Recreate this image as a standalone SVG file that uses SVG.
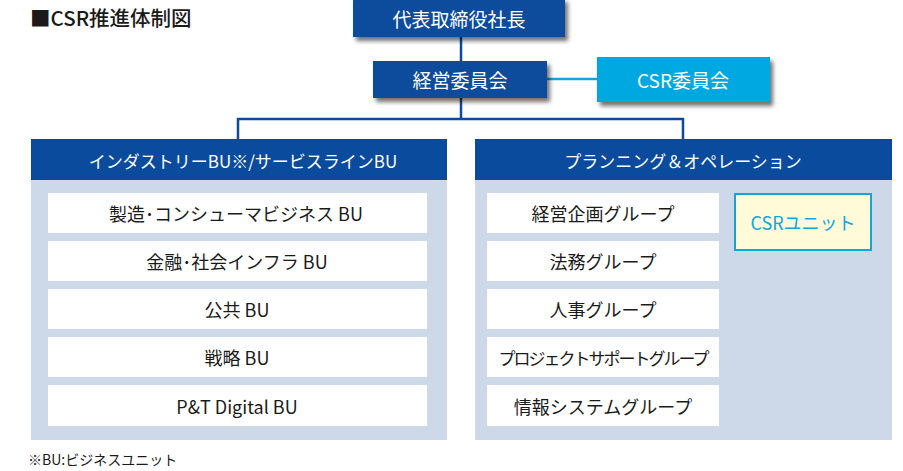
<svg xmlns="http://www.w3.org/2000/svg" width="903" height="471" viewBox="0 0 903 471">
<style>
text{font-family:"Noto Sans CJK JP","Noto Sans",sans-serif;dominant-baseline:central;text-anchor:middle}
.dk{fill:#0a4b9d}
.wt{fill:#fff;font-size:19px}
.hd{fill:#fff;font-size:17px}
.bx{fill:#fff}
.bt{fill:#1a1a1a;font-size:18px}
.pn{fill:#cdd8e9}
.ln{stroke:#0a4b9d;stroke-width:2.5;fill:none}
.lb{stroke:#12a6df;stroke-width:2.5;fill:none}
</style>
<defs>
<filter id="sh" x="-10%" y="-20%" width="130%" height="160%">
<feDropShadow dx="3" dy="4" stdDeviation="2.2" flood-color="#000" flood-opacity="0.55"/>
</filter>
</defs>
<rect width="903" height="471" fill="#fff"/>
<text x="30" y="17" style="text-anchor:start;font-size:20.5px;font-weight:500;fill:#1a1a1a">■CSR推進体制図</text>

<g id="connectors">
<line class="ln" x1="461" y1="35" x2="461" y2="62"/>
<polyline class="ln" points="461,97 461,119"/>
<polyline class="ln" points="238,140 238,119 683,119 683,140"/>
<line class="lb" x1="547" y1="79" x2="598" y2="79"/>
<line class="lb" x1="719" y1="213" x2="735" y2="213"/>
</g>

<g id="ceo">
<rect class="dk" x="353" y="-2" width="212" height="39" filter="url(#sh)"/>
<text class="wt" x="459" y="18">代表取締役社長</text>
</g>
<g id="mgmt">
<rect class="dk" x="373" y="61" width="174" height="37" filter="url(#sh)"/>
<text class="wt" x="460" y="79.5">経営委員会</text>
</g>
<g id="csr-committee">
<rect x="597" y="57" width="173" height="45" fill="#00a8e1" filter="url(#sh)"/>
<text class="wt" x="683" y="79.5">CSR委員会</text>
</g>

<g id="left-panel">
<rect class="pn" x="31" y="139" width="416" height="301"/>
<rect class="dk" x="31" y="139" width="416" height="41"/>
<text class="hd" x="243" y="160">インダストリーBU※/サービスラインBU</text>
</g>
<g id="bu1"><rect class="bx" x="48" y="193" width="379" height="40"/><text class="bt" x="236" y="213">製造･コンシューマビジネス BU</text></g>
<g id="bu2"><rect class="bx" x="48" y="241" width="379" height="40"/><text class="bt" x="237" y="261">金融･社会インフラ BU</text></g>
<g id="bu3"><rect class="bx" x="48" y="289" width="379" height="40"/><text class="bt" x="237" y="309">公共 BU</text></g>
<g id="bu4"><rect class="bx" x="48" y="337" width="379" height="40"/><text class="bt" x="237" y="357">戦略 BU</text></g>
<g id="bu5"><rect class="bx" x="48" y="385" width="379" height="41"/><text class="bt" x="237" y="405.5">P&amp;T Digital BU</text></g>

<g id="right-panel">
<rect class="pn" x="475" y="139" width="417" height="301"/>
<rect class="dk" x="475" y="139" width="417" height="41"/>
<text class="hd" x="683" y="160">プランニング＆オペレーション</text>
</g>
<g id="g1"><rect class="bx" x="487" y="193" width="232" height="40"/><text class="bt" x="603" y="213">経営企画グループ</text></g>
<g id="g2"><rect class="bx" x="487" y="241" width="232" height="40"/><text class="bt" x="603" y="261">法務グループ</text></g>
<g id="g3"><rect class="bx" x="487" y="289" width="232" height="40"/><text class="bt" x="603" y="309">人事グループ</text></g>
<g id="g4"><rect class="bx" x="487" y="337" width="232" height="40"/><text class="bt" x="603" y="357" style="font-size:17px;letter-spacing:-2px">プロジェクトサポートグループ</text></g>
<g id="g5"><rect class="bx" x="487" y="385" width="232" height="41"/><text class="bt" x="603" y="405.5">情報システムグループ</text></g>

<g id="csr-unit">
<rect x="735" y="194" width="136" height="56" fill="#fffad8" stroke="#12a6df" stroke-width="2"/>
<text x="803" y="222" style="font-size:18px;fill:#12a6df">CSRユニット</text>
</g>

<text x="28" y="459" style="text-anchor:start;font-size:14px;fill:#1a1a1a">※BU:ビジネスユニット</text>
</svg>
